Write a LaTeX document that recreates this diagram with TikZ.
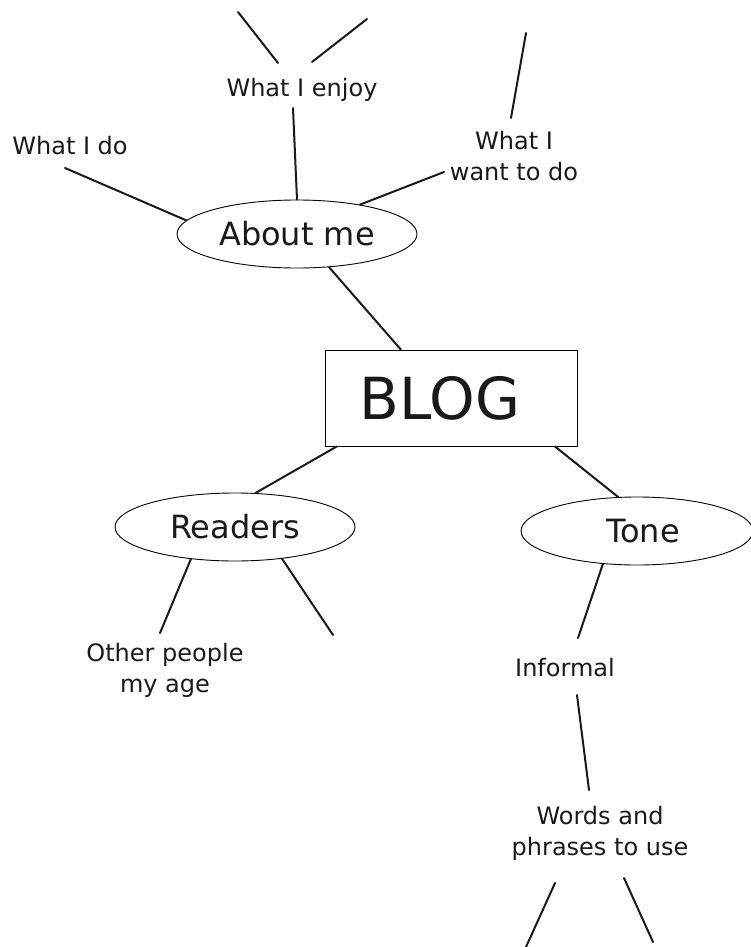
\documentclass[tikz,border=0pt]{standalone}
\usepackage{fontspec}
\setmainfont{DejaVu Sans}
\usetikzlibrary{shapes.geometric}
\begin{document}
\begin{tikzpicture}[x=1pt,y=-1pt,
  conn/.style={line width=2pt, line cap=round, draw=black!90},
  lbl/.style={font=\fontsize{24}{31}\selectfont, inner sep=0pt, align=center, text=black!90},
  topic/.style={ellipse, draw, line width=0.9pt, inner sep=0pt,
     minimum width=240pt, minimum height=68pt, font=\fontsize{32}{38}\selectfont, text=black!90},
  hub/.style={rectangle, draw, line width=0.9pt, inner sep=0pt,
     minimum width=252pt, minimum height=96pt, font=\fontsize{58}{64}\selectfont, text=black!90}]
\useasboundingbox (0,0) rectangle (751,947);

% central and topic nodes
\node[hub] (blog) at (451,398) {BLOG\hspace*{22pt}};
\node[topic] (about) at (297,234) {About me};
\node[topic] (readers) at (235,527) {Readers};
\node[topic, minimum width=232pt] (tone) at (637,531) {\hspace*{12pt}Tone};

% labels
\node[lbl, anchor=base] (enjoy) at (302,97) {What I enjoy};
\node[lbl, anchor=base] (do) at (70,154) {What I do};
\node[lbl, anchor=north] (want) at (514,130.8) {What I\\want to do};
\node[lbl, anchor=north] (other) at (165,642.8) {Other people\\my age};
\node[lbl, anchor=base] (informal) at (565,676) {Informal};
\node[lbl, anchor=north] (words) at (600,805.8) {Words and\\phrases to use};

% free ends
\coordinate (a1) at (238,12);  \coordinate (a2) at (278,63);
\coordinate (b1) at (312,62);  \coordinate (b2) at (367,19);
\coordinate (c1) at (293,108);
\coordinate (d1) at (65,168);
\coordinate (e1) at (526,33);  \coordinate (e2) at (511,118);
\coordinate (f1) at (444,172);
\coordinate (j2) at (160,633);
\coordinate (k2) at (333,635);
\coordinate (l2) at (578,638);
\coordinate (m1) at (577,695); \coordinate (m2) at (589,790);
\coordinate (n1) at (555,883); \coordinate (n2) at (526,947);
\coordinate (o1) at (624,878); \coordinate (o2) at (653,942);

% connectors
\draw[conn] (a1) -- (a2);
\draw[conn] (b1) -- (b2);
\draw[conn] (c1) -- (about.north);
\draw[conn] (d1) -- (about.173.9);
\draw[conn] (e1) -- (e2);
\draw[conn] (f1) -- (about.25.5);
\draw[conn] (about.-46.7) -- (blog.136.7);
\draw[conn] (blog.-157.5) -- (readers.59.5);
\draw[conn] (blog.-25.9) -- (tone.119.2);
\draw[conn] (readers.216.25) -- (j2);
\draw[conn] (readers.-34.5) -- (k2);
\draw[conn] (tone.224.2) -- (l2);
\draw[conn] (m1) -- (m2);
\draw[conn] (n1) -- (n2);
\draw[conn] (o1) -- (o2);
\end{tikzpicture}
\end{document}
